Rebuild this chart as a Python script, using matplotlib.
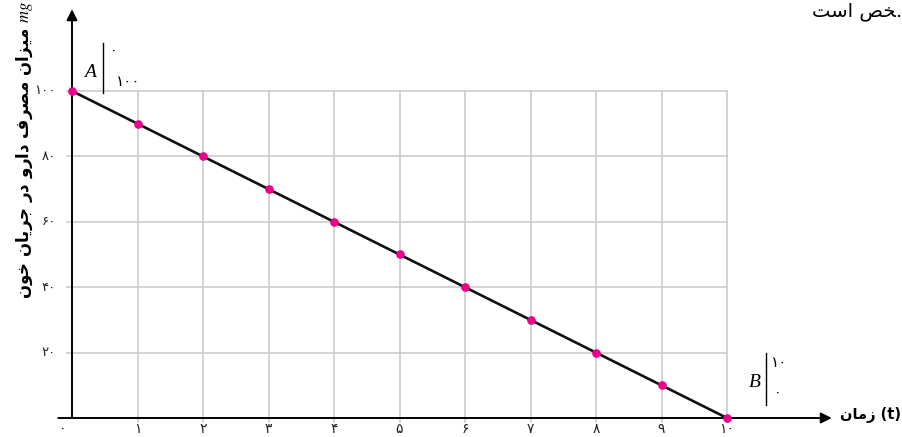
import matplotlib.pyplot as plt

plt.rcParams['font.family'] = ['DejaVu Sans']
plt.rcParams['mathtext.fontset'] = 'stix'

# Daten: Zeit und Medikamentenmenge
zeit = [0, 1, 2, 3, 4, 5, 6, 7, 8, 9, 10]
menge = [100, 90, 80, 70, 60, 50, 40, 30, 20, 10, 0]
y_ticks = [20, 40, 60, 80, 100]

# persische Ziffern
fa_digits = '۰۱۲۳۴۵۶۷۸۹'


def fa(n):
    return ''.join(fa_digits[int(c)] for c in str(n))


# Beschriftungen (schon in Darstellungsformen und visueller Reihenfolge)
ylabel_fa = ('\uFEE5\uFEEE\uFEA7 \uFEE5\uFE8E\uFEF3\uFEAE\uFE9F \uFEAD\uFEA9 '
             '\uFEED\uFEAD\uFE8D\uFEA9 \uFED1\uFEAE\uFEBC\uFEE3 '
             '\uFEE5\uFE8D\uFEB0\uFEF4\uFEE3')
xlabel_fa = '\uFEE5\uFE8E\uFEE3\uFEAF (t)'
top_text = '\uFE96\uFEB3\uFE8D \uFEBA\uFEA8.'

# Pixel -> Daten: x=0 bei 72px, 65.5 px pro Einheit; y=0 bei 19px von unten, 3.27 px pro Einheit
W, H = 903, 437
x0, sx = 72, 65.5
y0, sy = 19, 3.27

fig = plt.figure(figsize=(W / 100, H / 100), dpi=100)
ax = fig.add_axes([0, 0, 1, 1])
ax.set_xlim(-x0 / sx, (W - x0) / sx)
ax.set_ylim(-y0 / sy, (H - y0) / sy)
ax.axis('off')

grid_col = '#c8c8c8'
for t in zeit[1:]:
    ax.plot([t, t], [-1.3, 100], color=grid_col, lw=1.1, zorder=1)
for v in y_ticks:
    ax.plot([-0.07, 10], [v, v], color=grid_col, lw=1.1, zorder=1)

# Achsen mit Pfeilen
ax.annotate('', xy=(11.6, 0), xytext=(-0.21, 0),
            arrowprops=dict(arrowstyle='-|>', color='black', lw=1.4,
                            mutation_scale=16, shrinkA=0, shrinkB=0), zorder=3)
ax.annotate('', xy=(0, 125), xytext=(0, 0),
            arrowprops=dict(arrowstyle='-|>', color='black', lw=1.4,
                            mutation_scale=16, shrinkA=0, shrinkB=0), zorder=3)

ax.plot(zeit, menge, color='#111111', lw=1.9, zorder=4)
ax.plot(zeit, menge, 'o', color='#ec008c', markersize=5.2, zorder=5)

# Tick-Beschriftungen
for t in zeit:
    xp = t if t > 0 else -0.14
    ax.text(xp, -1.2, fa(t), ha='center', va='top', fontsize=10, color='#222222')
for v in y_ticks:
    ax.text(-0.25, v, fa(v), ha='right', va='center', fontsize=9.5, color='#222222')

ax.text(-0.72, 127.5, ylabel_fa + r' $mg$', rotation=90, ha='center', va='top',
        fontsize=12, fontweight='bold')
ax.text(11.72, 0.9, xlabel_fa, ha='left', va='center', fontsize=10.5, fontweight='bold')
ax.text(12.67, 122.9, top_text, ha='right', va='baseline', fontsize=14)

# Punkte A und B
ax.text(0.27, 105.8, 'A', family='Liberation Serif', style='italic', fontsize=14,
        ha='center', va='center')
ax.plot([0.47, 0.47], [99.4, 114.7], color='black', lw=1)
ax.text(0.63, 112.2, fa(0), ha='center', va='center', fontsize=10)
ax.text(0.86, 102.8, fa(100), ha='center', va='center', fontsize=11)

ax.text(10.43, 11.0, 'B', family='Liberation Serif', style='italic', fontsize=14,
        ha='center', va='center')
ax.plot([10.6, 10.6], [4.0, 19.9], color='black', lw=1)
ax.text(10.8, 17.1, fa(10), ha='center', va='center', fontsize=11)
ax.text(10.78, 7.6, fa(0), ha='center', va='center', fontsize=10)

plt.savefig('out.png', dpi=100)
